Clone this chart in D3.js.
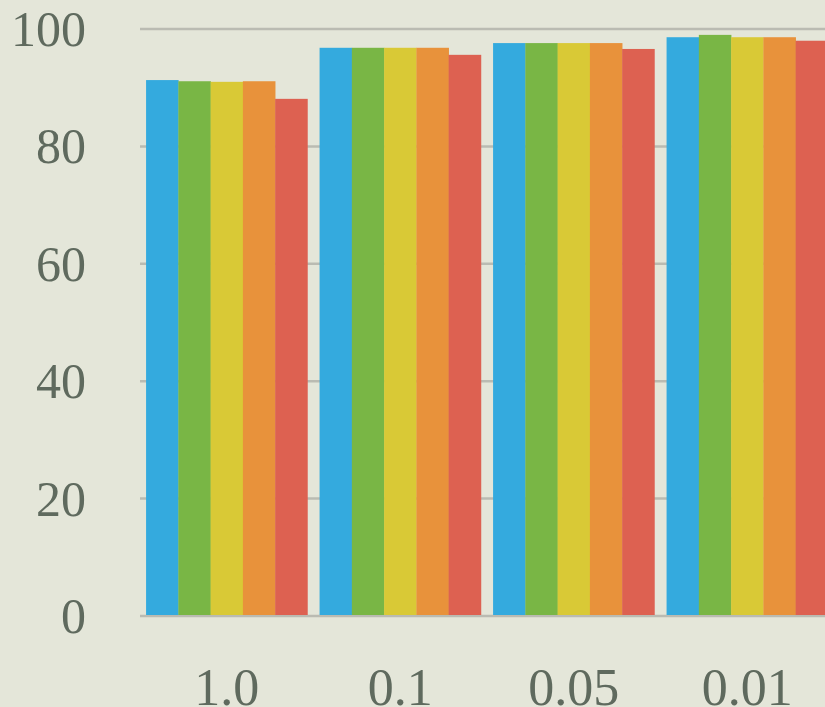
<!DOCTYPE html>
<html lang="en">
  <head>
    <meta charset="UTF-8" />
    <title>Grouped bars</title>
    <script src="https://d3js.org/d3.v7.min.js"></script>
    <style>
      body {
        margin: 0;
        padding: 0;
        overflow: hidden;
        background-color: #e4e6d9;
      }
      text {
        font-family: "Liberation Serif", "DejaVu Serif", serif;
        fill: #5f6a5e;
      }
    </style>
  </head>
  <body>
    <svg id="chart" width="825" height="707"></svg>

    <script>
      var categories = ["1.0", "0.1", "0.05", "0.01"];
      var seriesNames = ["s1", "s2", "s3", "s4", "s5"];
      var seriesColors = ["#34aade", "#79b645", "#d9c936", "#e8923b", "#dd6151"];
      // values per category, one per series
      var values = [
        [91.3, 91.1, 91.0, 91.1, 88.1],
        [96.8, 96.8, 96.8, 96.8, 95.6],
        [97.6, 97.6, 97.6, 97.6, 96.6],
        [98.6, 99.0, 98.6, 98.6, 98.0]
      ];
      var yTicks = [0, 20, 40, 60, 80, 100];

      var svg = d3.select("#chart");

      // background
      svg
        .append("rect")
        .attr("width", 825)
        .attr("height", 707)
        .attr("fill", "#e4e6d9");

      var y = d3.scaleLinear().domain([0, 100]).range([616, 29]);

      var x0 = d3
        .scaleBand()
        .domain(categories)
        .range([140, 834])
        .paddingInner(0.07)
        .paddingOuter(0.035);

      var x1 = d3
        .scaleBand()
        .domain(seriesNames)
        .range([0, x0.bandwidth()]);

      // gridlines
      svg
        .selectAll("line.grid")
        .data(yTicks)
        .enter()
        .append("line")
        .attr("class", "grid")
        .attr("x1", 140)
        .attr("x2", 825)
        .attr("y1", function (d) {
          return y(d);
        })
        .attr("y2", function (d) {
          return y(d);
        })
        .attr("stroke", "#babbb2")
        .attr("stroke-width", 2.5);

      // y labels
      svg
        .selectAll("text.ylab")
        .data(yTicks)
        .enter()
        .append("text")
        .attr("class", "ylab")
        .attr("x", 86)
        .attr("y", function (d) {
          return y(d);
        })
        .attr("dy", "0.34em")
        .attr("text-anchor", "end")
        .attr("font-size", "50px")
        .text(function (d) {
          return d;
        });

      // bars
      var groups = svg
        .selectAll("g.cat")
        .data(values)
        .enter()
        .append("g")
        .attr("class", "cat")
        .attr("transform", function (d, i) {
          return "translate(" + x0(categories[i]) + ",0)";
        });

      groups
        .selectAll("rect")
        .data(function (d) {
          return d;
        })
        .enter()
        .append("rect")
        .attr("x", function (d, i) {
          return x1(seriesNames[i]);
        })
        .attr("width", x1.bandwidth() + 0.3)
        .attr("y", function (d) {
          return y(d);
        })
        .attr("height", function (d) {
          return y(0) - y(d) - 1;
        })
        .attr("fill", function (d, i) {
          return seriesColors[i];
        });

      // x labels
      svg
        .selectAll("text.xlab")
        .data(categories)
        .enter()
        .append("text")
        .attr("class", "xlab")
        .attr("x", function (d) {
          return x0(d) + x0.bandwidth() / 2;
        })
        .attr("y", 705)
        .attr("text-anchor", "middle")
        .attr("font-size", "52px")
        .text(function (d) {
          return d;
        });
    </script>
  </body>
</html>
